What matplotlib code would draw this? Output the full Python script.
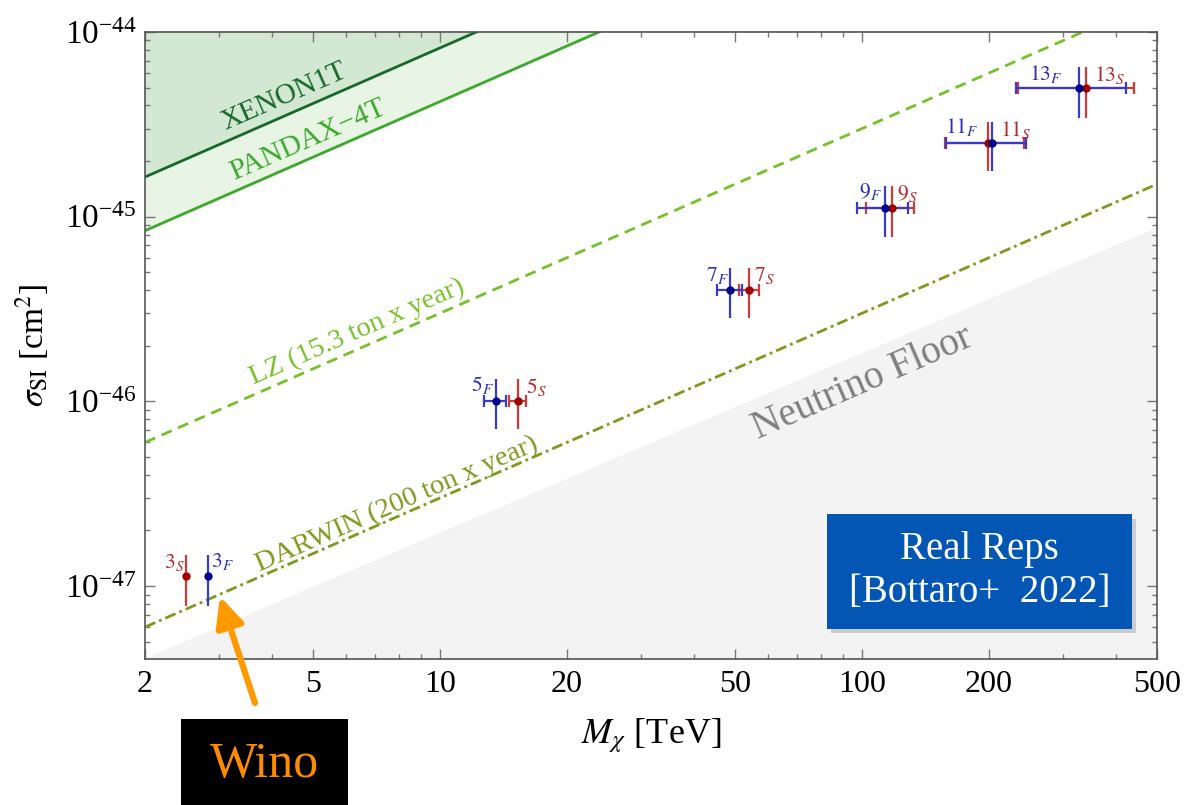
import matplotlib
matplotlib.use('Agg')
import matplotlib.pyplot as plt
from matplotlib.patches import Rectangle, FancyArrowPatch
from matplotlib.transforms import IdentityTransform
from matplotlib.ticker import LogLocator

plt.rcParams['font.family'] = ['Liberation Serif', 'DejaVu Serif']
plt.rcParams['mathtext.fontset'] = 'stix'

# limits / curves (sigma at the two mass edges, all straight in log-log)
mass_edges = [2, 500]
xenon1t = [1.64e-45, 4.1e-43]
pandax4t = [8.4e-46, 2.1e-43]
lz_proj = [6.0e-47, 1.5e-44]
darwin_proj = [6.0e-48, 1.5e-45]
nu_floor = [4.1e-48, 8.8e-46]

# real reps points
reps = ['3', '5', '7', '9', '11', '13']
mass_F = [2.82, 13.6, 48.6, 113.3, 203, 327]
mass_F_lo = [2.82, 12.7, 45.3, 97.2, 158, 232]
mass_F_hi = [2.82, 14.3, 52.0, 128.5, 245, 423]
mass_S = [2.50, 15.3, 54.0, 117.7, 199, 339.6]
mass_S_lo = [2.50, 14.6, 51.1, 102.2, 157, 234]
mass_S_hi = [2.50, 16.0, 57.0, 132.8, 242, 441]
sigma = [1.135e-47, 1.0e-46, 4.0e-46, 1.114e-45, 2.51e-45, 4.98e-45]
sigma_lo = [7.8e-48, 7.1e-47, 2.83e-46, 7.76e-46, 1.77e-45, 3.42e-45]
sigma_hi = [1.47e-47, 1.32e-46, 5.27e-46, 1.466e-45, 3.26e-45, 6.46e-45]

# label offsets in pixels from the point
off_F = [(14, 14), (-14, 16), (-12, 15), (-15, 17), (-30, 16), (-33, 14)]
off_S = [(-12, 13), (18, 14), (15, 15), (15, 15), (28, 13), (24, 13)]

wino_tip = (3.01, 8.8e-48)
x_ticks = [2, 5, 10, 20, 50, 100, 200, 500]
y_ticks = [1e-47, 1e-46, 1e-45, 1e-44]
ymin, ymax = 4.03e-48, 1e-44

fig = plt.figure(figsize=(11.86, 8.05), dpi=100)
ax = fig.add_axes([145/1186, 146/805, 1012/1186, 627/805])
ax.set_xscale('log'); ax.set_yscale('log')

ax.fill_between(mass_edges, ymin/10, nu_floor, color='#f3f3f3', lw=0, zorder=0)
ax.fill_between(mass_edges, xenon1t, 1e-40, color='#d3e8d2', lw=0, zorder=1)
ax.fill_between(mass_edges, pandax4t, xenon1t, color='#e8f5e5', lw=0, zorder=1)
ax.plot(mass_edges, xenon1t, color='#17692a', lw=2, zorder=2)
ax.plot(mass_edges, pandax4t, color='#3ca82c', lw=2, zorder=2)
ax.plot(mass_edges, lz_proj, color='#78c02a', lw=2, ls=(0, (4, 2.5)), zorder=2)
ax.plot(mass_edges, darwin_proj, color='#7c9a1c', lw=2, ls=(0, (4, 1.5, 1, 1.5)), zorder=2)

ax.text(0.137, 0.896, 'XENON1T', color='#17692a', fontsize=21, rotation=23.6,
        ha='center', va='center', transform=ax.transAxes)
ax.text(0.161, 0.828, 'PANDAX\u22124T', color='#3ca82c', fontsize=21, rotation=23.6,
        ha='center', va='center', transform=ax.transAxes)
ax.text(0.210, 0.522, 'LZ (15.3 ton x year)', color='#78c02a', fontsize=20.5, rotation=23.6,
        ha='center', va='center', transform=ax.transAxes)
ax.text(0.249, 0.246, 'DARWIN (200 ton x year)', color='#7c9a1c', fontsize=20.5, rotation=23.6,
        ha='center', va='center', transform=ax.transAxes)
ax.text(0.709, 0.440, 'Neutrino Floor', color='#808080', fontsize=28.5, rotation=23.5,
        ha='center', va='center', transform=ax.transAxes)

# error bars: horizontal with caps, vertical without
for m, lo, hi, line_c, dot_c in [(mass_S, mass_S_lo, mass_S_hi, '#cc3a3a', '#a00000'),
                                  (mass_F, mass_F_lo, mass_F_hi, '#3a3ac8', '#00008c')]:
    xerr = [[a - b for a, b in zip(m, lo)], [b - a for a, b in zip(m, hi)]]
    yerr = [[a - b for a, b in zip(sigma, sigma_lo)], [b - a for a, b in zip(sigma, sigma_hi)]]
    ax.errorbar(m[1:], sigma[1:], xerr=[xerr[0][1:], xerr[1][1:]], fmt='none',
                ecolor=line_c, elinewidth=1.6, capsize=4, capthick=1.6, zorder=3)
    ax.errorbar(m, sigma, yerr=yerr, fmt='none', ecolor=line_c, elinewidth=1.6,
                capsize=0, zorder=3)
    ax.plot(m, sigma, 'o', color=dot_c, ms=5, zorder=4)

for i, r in enumerate(reps):
    ax.annotate(r'$%s_{F}$' % r, (mass_F[i], sigma[i]), xytext=off_F[i],
                textcoords='offset pixels', color='#2e2eb8', fontsize=15.5,
                ha='center', va='center')
    ax.annotate(r'$%s_{S}$' % r, (mass_S[i], sigma[i]), xytext=off_S[i],
                textcoords='offset pixels', color='#b82a2a', fontsize=15.5,
                ha='center', va='center')

ax.set_xlim(2, 500)
ax.set_ylim(ymin, ymax)
ax.set_xticks(x_ticks)
ax.set_xticklabels([str(t) for t in x_ticks])
ax.set_yticks(y_ticks)
ax.yaxis.set_minor_locator(LogLocator(base=10, subs=range(2, 10)))
ax.tick_params(which='both', direction='in', top=True, right=True, color='#777777', width=1)
ax.tick_params(which='major', length=7)
ax.tick_params(which='minor', length=3.5, labelbottom=False, labelleft=False)
ax.tick_params(axis='x', which='major', labelsize=23, pad=8)
ax.tick_params(axis='y', which='major', labelsize=24, pad=6)
for s in ax.spines.values():
    s.set_color('#555555'); s.set_linewidth(1.2)

ax.set_xlabel(r'$M_{\chi}$ [TeV]', fontsize=26, labelpad=12)
ax.set_ylabel(r'$\sigma_{\rm SI}$ [cm$^2$]', fontsize=24, labelpad=10)

# Real Reps box
ax.add_patch(Rectangle((0.678, 0.041), 0.301, 0.183, transform=ax.transAxes,
                       color='#000000', alpha=0.16, lw=0, zorder=5))
ax.add_patch(Rectangle((0.674, 0.048), 0.301, 0.183, transform=ax.transAxes,
                       color='#0356b4', lw=0, zorder=6))
ax.text(0.8245, 0.14, 'Real Reps\n[Bottaro+  2022]', color='white', fontsize=28,
        ha='center', va='center', linespacing=1.2, transform=ax.transAxes, zorder=7)

# Wino callout
fig.add_artist(Rectangle((181/1186, 0), 167/1186, 86/805, transform=fig.transFigure,
                         color='black', lw=0))
fig.text(264/1186, 40/805, 'Wino', color='#ff8c00', fontsize=36, ha='center', va='center')
tip = ax.transData.transform(wino_tip)
fig.add_artist(FancyArrowPatch((255, 102), tuple(tip), transform=IdentityTransform(),
                               arrowstyle='-|>,head_length=18,head_width=8.5',
                               color='#ff9900', lw=4.5, shrinkA=0, shrinkB=0))

fig.savefig('out.png', dpi=100)
